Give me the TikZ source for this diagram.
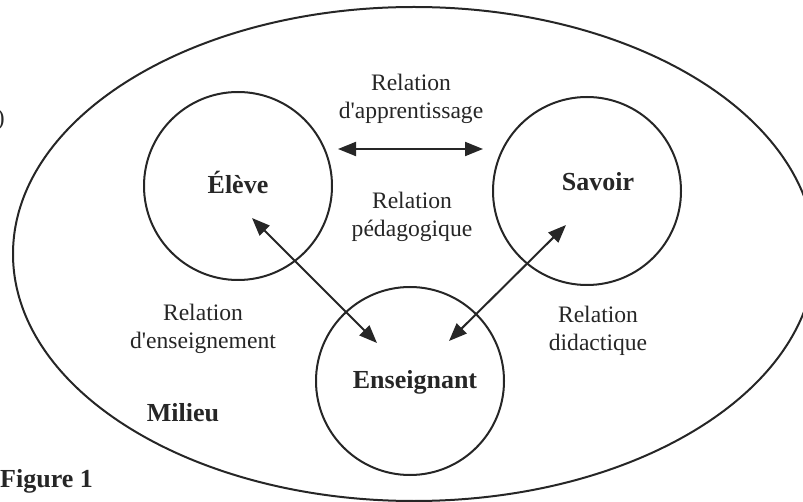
\documentclass[tikz,border=0pt]{standalone}
\usepackage{fontspec}
\setmainfont{Liberation Serif}
\usetikzlibrary{arrows.meta,positioning}
\definecolor{ink}{gray}{0.15}

\begin{document}
\begin{tikzpicture}[x=1pt,y=-1pt,
  ring/.style={draw=ink,circle,line width=2pt,minimum size=188pt,inner sep=0pt},
  pole/.style={font=\fontsize{26}{30}\selectfont\bfseries,text=ink,inner sep=0pt},
  rel/.style={font=\fontsize{23.6}{28}\selectfont,text=ink,align=center,inner sep=0pt},
  link/.style={draw=ink,line width=2pt,{Triangle[length=18pt,width=14pt]}-{Triangle[length=18pt,width=14pt]}}]
  \useasboundingbox (0,0) rectangle (803,502);
  % milieu
  \draw[ink,line width=2pt] (414,254) ellipse [x radius=401pt,y radius=247pt];
  \node[rel,anchor=east] (cut) at (5,120) {)};
  % the three poles
  \node[ring] (eleve) at (238,186) {};
  \node[ring] (savoir) at (587,191) {};
  \node[ring] (enseignant) at (410,381) {};
  \node[pole] (eleveT) at (238,182) {Élève};
  \node[pole] (savoirT) at (598,182) {Savoir};
  \node[pole] (enseignantT) at (415,382) {Enseignant};
  \node[pole] (milieu) at (183,413) {Milieu};
  \node[pole,anchor=west] (fig) at (0,481) {Figure 1};
  % relations
  \node[rel] (rA) at (411,99) {Relation\\d\textquotesingle apprentissage};
  \node[rel] (rP) at (412,217) {Relation\\pédagogique};
  \node[rel] (rE) at (203,329) {Relation\\d\textquotesingle enseignement};
  \node[rel] (rD) at (598,331) {Relation\\didactique};
  \coordinate (a1) at (338,149);
  \coordinate (a2) at (483,149);
  \coordinate (b1) at (252,218);
  \coordinate (b2) at (377,343);
  \coordinate (c1) at (566,225);
  \coordinate (c2) at (449,341);
  \draw[link] (a1) -- (a2);
  \draw[link] (b1) -- (b2);
  \draw[link] (c1) -- (c2);
\end{tikzpicture}
\end{document}
